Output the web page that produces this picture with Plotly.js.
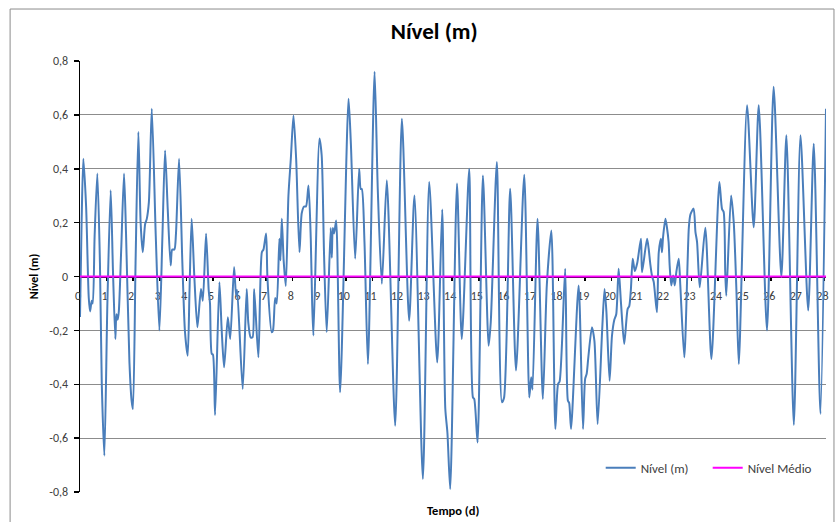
<!DOCTYPE html>
<html>
<head>
<meta charset="utf-8">
<script src="https://cdn.plot.ly/plotly-3.0.1.min.js"></script>
<style>
  html, body { margin: 0; padding: 0; background: #ffffff; }
  #chart { width: 840px; height: 522px; }
</style>
</head>
<body>
<div id="chart"></div>
<script>
// Tempo (d)
const tempo = [
  0.00, 0.06, 0.125, 0.23, 0.33, 0.38, 0.44, 0.48, 0.55, 0.652,
  0.75, 0.82, 0.916, 1.03, 1.154, 1.24, 1.33, 1.37, 1.42, 1.46,
  1.55, 1.656, 1.73, 1.86, 1.94, 1.99, 2.09, 2.195, 2.28, 2.36,
  2.45, 2.51, 2.59, 2.70, 2.85, 2.986, 3.10, 3.20, 3.30, 3.41,
  3.47, 3.55, 3.61, 3.726, 3.85, 3.95, 4.05, 4.12, 4.20, 4.30,
  4.416, 4.55, 4.62, 4.742, 4.84, 4.89, 4.955, 5.00, 5.08, 5.244,
  5.33, 5.42, 5.56, 5.65, 5.796, 5.87, 5.91, 6.12, 6.27, 6.33,
  6.42, 6.49, 6.55, 6.71, 6.84, 6.90, 7.00, 7.05, 7.21, 7.26,
  7.34, 7.40, 7.50, 7.54, 7.59, 7.66, 7.74, 7.84, 7.93, 8.03,
  8.13, 8.255, 8.34, 8.43, 8.50, 8.594, 8.68, 8.73, 8.78, 9.007,
  9.09, 9.18, 9.28, 9.43, 9.47, 9.51, 9.56, 9.635, 9.785, 10.10,
  10.19, 10.35, 10.50, 10.56, 10.60, 10.70, 10.83, 11.08, 11.20, 11.354,
  11.54, 11.855, 12.107, 12.38, 12.58, 12.897, 13.135, 13.436, 13.624, 13.74,
  13.82, 13.925, 14.18, 14.36, 14.64, 14.78, 14.83, 14.954, 15.155, 15.37,
  15.45, 15.68, 15.87, 15.95, 16.18, 16.40, 16.71, 16.90, 16.97, 17.02,
  17.21, 17.41, 17.56, 17.73, 17.88, 17.98, 18.04, 18.25, 18.35, 18.40,
  18.47, 18.755, 18.92, 19.00, 19.06, 19.12, 19.257, 19.35, 19.47, 19.64,
  19.73, 19.80, 19.92, 20.01, 20.10, 20.17, 20.26, 20.35, 20.47, 20.60,
  20.66, 20.72, 20.79, 20.87, 20.96, 21.10, 21.14, 21.33, 21.39, 21.45,
  21.52, 21.58, 21.70, 21.77, 21.85, 21.89, 21.93, 22.02, 22.08, 22.14,
  22.18, 22.24, 22.31, 22.37, 22.43, 22.52, 22.58, 22.73, 22.90, 22.96,
  23.08, 23.15, 23.21, 23.31, 23.52, 23.75, 24.05, 24.15, 24.21, 24.27,
  24.31, 24.49, 24.59, 24.69, 24.78, 25.09, 25.34, 25.53, 25.84, 26.09,
  26.38, 26.57, 26.85, 27.10, 27.39, 27.60, 27.85, 28.06
];

// Nível (m)
const nivel = [
  -0.15, 0.20, 0.437, 0.26, -0.08, -0.13, -0.09, -0.10, 0.15, 0.382,
  0.05, -0.40, -0.665, -0.10, 0.32, 0.02, -0.232, -0.14, -0.16, -0.13,
  0.10, 0.382, 0.165, -0.319, -0.46, -0.492, 0.05, 0.537, 0.20, 0.09,
  0.195, 0.213, 0.275, 0.623, 0.15, -0.20, 0.15, 0.468, 0.25, 0.041,
  0.10, 0.10, 0.16, 0.437, 0.05, -0.207, -0.294, -0.05, 0.214, 0.00,
  -0.188, -0.046, -0.09, 0.159, -0.05, -0.10, -0.287, -0.29, -0.514, -0.021,
  -0.20, -0.337, -0.151, -0.232, 0.035, -0.07, -0.05, -0.418, -0.046, -0.17,
  -0.226, -0.226, -0.046, -0.30, 0.09, 0.10, 0.16, -0.004, -0.207, -0.20,
  -0.08, -0.10, 0.14, 0.06, 0.214, 0.06, -0.035, 0.30, 0.437, 0.598,
  0.437, 0.09, 0.235, 0.26, 0.26, 0.338, 0.14, -0.09, -0.219, 0.512,
  0.45, 0.08, -0.207, 0.18, 0.07, 0.18, 0.16, 0.208, -0.43, 0.66,
  0.49, 0.066, 0.40, 0.325, 0.325, 0.128, -0.325, 0.76, 0.325, -0.027,
  0.357, -0.554, 0.586, -0.164, 0.301, -0.752, 0.351, -0.319, 0.249, -0.49,
  -0.58, -0.789, 0.345, -0.232, 0.40, -0.449, -0.455, -0.616, 0.375, -0.257,
  -0.17, 0.425, -0.467, -0.45, 0.326, -0.349, 0.378, -0.449, -0.374, -0.42,
  0.214, -0.455, -0.03, 0.171, -0.566, -0.40, -0.39, 0.029, -0.46, -0.47,
  -0.566, -0.033, -0.566, -0.38, -0.36, -0.30, -0.188, -0.24, -0.548, -0.20,
  -0.046, -0.13, -0.387, -0.22, -0.16, -0.14, 0.029, -0.10, -0.25, -0.12,
  -0.11, -0.05, 0.066, 0.02, 0.05, 0.14, 0.016, 0.14, 0.103, 0.047,
  0.00, -0.02, -0.133, 0.09, 0.14, 0.09, 0.145, 0.214, 0.18, 0.128,
  0.04, -0.033, 0.004, -0.033, 0.016, 0.066, -0.033, -0.30, 0.18, 0.23,
  0.252, 0.165, 0.128, -0.04, 0.181, -0.306, 0.351, 0.25, 0.24, 0.016,
  -0.071, 0.301, 0.20, -0.05, -0.325, 0.636, 0.183, 0.636, -0.20, 0.704,
  -0.002, 0.524, -0.551, 0.524, -0.126, 0.493, -0.51, 0.623
];

// Nível Médio (m)
const nivelMedio = 0;

// Tick labels
const xTickVals = [0,1,2,3,4,5,6,7,8,9,10,11,12,13,14,15,16,17,18,19,20,21,22,23,24,25,26,27,28];
const xTickText = xTickVals.map(String);
const yTickVals = [-0.8, -0.6, -0.4, -0.2, 0, 0.2, 0.4, 0.6, 0.8];
const yTickText = ["-0,8", "-0,6", "-0,4", "-0,2", "0", "0,2", "0,4", "0,6", "0,8"];

const FONT = 'Calibri, Carlito, "Liberation Sans Narrow", "Liberation Sans", Arial, sans-serif';

const traces = [
  {
    x: tempo, y: nivel, type: 'scatter', mode: 'lines', name: 'Nível (m)',
    line: { color: '#4a7ebb', width: 2, shape: 'spline', smoothing: 0.7 }
  },
  {
    x: [tempo[0], tempo[tempo.length - 1]], y: [nivelMedio, nivelMedio],
    type: 'scatter', mode: 'lines', name: 'Nível Médio',
    line: { color: '#ff00ff', width: 2 }
  }
];

const layout = {
  width: 840, height: 522,
  margin: { l: 80, r: 14, t: 61, b: 30 },
  paper_bgcolor: '#ffffff', plot_bgcolor: '#ffffff',
  font: { family: FONT, size: 12, color: '#404040' },
  title: {
    text: '<b>Nível (m)</b>',
    font: { family: FONT, size: 23, color: '#000000' },
    x: 0.517, xanchor: 'center', y: 0.94, yanchor: 'middle'
  },
  showlegend: true,
  legend: {
    orientation: 'h', x: 0.698, xanchor: 'left', y: 0.056, yanchor: 'middle',
    font: { family: FONT, size: 13, color: '#404040' },
    bgcolor: 'rgba(0,0,0,0)', itemwidth: 30,
    entrywidth: 62, entrywidthmode: 'pixels'
  },
  xaxis: {
    range: [0, 28.06],
    anchor: 'free', position: 0.5,
    tickvals: xTickVals, ticktext: xTickText,
    ticks: 'outside', ticklen: 3, tickwidth: 1.5, tickcolor: '#000000',
    ticklabelstandoff: 5, ticklabelshift: -2,
    showline: true, linecolor: '#000000', linewidth: 1,
    showgrid: false, zeroline: false,
    tickfont: { family: FONT, size: 12, color: '#404040' },
    layer: 'below traces'
  },
  yaxis: {
    range: [-0.8, 0.8],
    tickvals: yTickVals, ticktext: yTickText,
    ticks: 'outside', ticklen: 5, tickwidth: 1.5, tickcolor: '#000000',
    ticklabelstandoff: 3,
    showline: true, linecolor: '#000000', linewidth: 1.5,
    showgrid: true, gridcolor: '#8c8c8c', gridwidth: 1,
    zeroline: false,
    tickfont: { family: FONT, size: 12, color: '#404040' },
    title: { text: '<b>Nível (m)</b>', font: { family: FONT, size: 12, color: '#000000' }, standoff: 8 },
    layer: 'below traces'
  },
  annotations: [
    {
      text: '<b>Tempo (d)</b>', xref: 'paper', yref: 'paper',
      x: 0.5, y: -0.042, xanchor: 'center', yanchor: 'middle', showarrow: false,
      font: { family: FONT, size: 12.5, color: '#000000' }
    }
  ],
  shapes: [
    {
      type: 'rect', xref: 'paper', yref: 'paper',
      x0: -0.0937, x1: 1.0107, y0: -0.12, y1: 1.1206,
      line: { color: '#8c8c8c', width: 1 }, fillcolor: 'rgba(0,0,0,0)', layer: 'below'
    }
  ]
};

Plotly.newPlot('chart', traces, layout, { displayModeBar: false, staticPlot: true });
</script>
</body>
</html>
